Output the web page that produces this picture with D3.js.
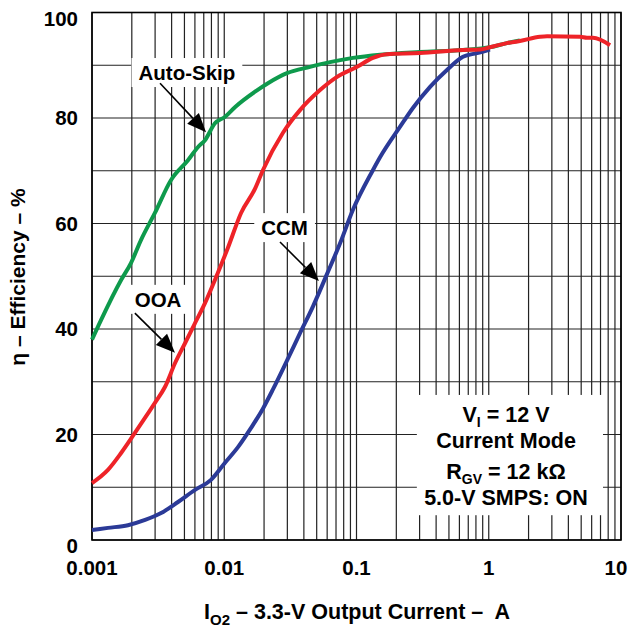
<!DOCTYPE html>
<html>
<head>
<meta charset="utf-8">
<script src="https://cdn.jsdelivr.net/npm/d3@7/dist/d3.min.js"></script>
<style>
    body { margin: 0; background: #fff; }
    svg text { font-family: Arial, "Liberation Sans", Helvetica, sans-serif; font-weight: bold; fill: #000; }
</style>
</head>
<body>
<div id="chart"></div>
<script>
    // output current in A (log axis), efficiency in %
    var autoSkipCurrent = [0.001, 0.00117, 0.00166, 0.00197, 0.00235, 0.00299, 0.00395, 0.00532, 0.00634, 0.00715,
        0.0085, 0.0101, 0.0121, 0.0171, 0.0214, 0.0298, 0.0445, 0.063, 0.094, 0.151, 0.302, 0.638, 1.02, 1.37, 1.72];
    var autoSkipEff = [38.0, 41.7, 49.3, 52.5, 56.9, 62.0, 68.2, 72.0, 74.5, 75.8,
        79.0, 80.2, 82.1, 85.0, 86.6, 88.5, 89.7, 90.6, 91.4, 92.0, 92.5, 92.9, 93.4, 94.2, 94.7];

    var ooaCurrent = [0.001, 0.00132, 0.00166, 0.00211, 0.00265, 0.00299, 0.00356, 0.00424, 0.00505, 0.00601,
        0.00715, 0.0085, 0.0107, 0.0134, 0.0171, 0.0196, 0.0278, 0.0374, 0.053, 0.0713, 0.101, 0.133, 0.170,
        0.302, 0.638, 0.859, 1.02, 1.37, 1.72, 2.44, 2.76, 4.9, 5.53, 6.14, 8.26];
    var ooaEff = [10.8, 13.3, 16.5, 20.3, 24.0, 26.0, 29.0, 33.5, 37.3, 41.1,
        44.9, 49.3, 55.5, 62.0, 66.6, 70.1, 77.2, 81.5, 85.3, 87.8, 89.7, 91.4, 92.1,
        92.3, 92.9, 93.0, 93.4, 94.2, 94.6, 95.4, 95.5, 95.4, 95.2, 95.2, 93.8];

    var ccmCurrent = [0.001, 0.00132, 0.00187, 0.00252, 0.00333, 0.00447, 0.00601, 0.00794, 0.0101, 0.0127,
        0.0159, 0.0196, 0.0234, 0.0298, 0.0374, 0.0469, 0.0598, 0.075, 0.094, 0.133, 0.151, 0.213, 0.267,
        0.360, 0.483, 0.638, 0.815, 1.02];
    var ccmEff = [1.9, 2.3, 2.8, 3.8, 5.1, 7.2, 9.5, 11.4, 14.6, 17.6,
        21.2, 24.9, 28.6, 34.0, 39.2, 44.3, 50.4, 56.2, 62.6, 70.1, 72.6, 78.3, 81.9,
        85.9, 89.1, 91.6, 92.3, 93.0];

    var xTickValues = [0.001, 0.01, 0.1, 1, 10];
    var xTickLabels = ["0.001", "0.01", "0.1", "1", "10"];
    var yTickValues = [0, 20, 40, 60, 80, 100];
    var yTickLabels = ["0", "20", "40", "60", "80", "100"];
    var conditionLines = ["V|I| = 12 V", "Current Mode", "R|GV| = 12 k\u03A9", "5.0-V SMPS: ON"];

    var width = 635, height = 629;
    var margin = {top: 12.5, right: 14, bottom: 89, left: 92};
    var plotW = width - margin.left - margin.right;
    var plotH = height - margin.top - margin.bottom;

    var x = d3.scaleLog().domain([0.001, 10]).range([0, plotW]);
    var y = d3.scaleLinear().domain([0, 100]).range([plotH, 0]);

    var svg = d3.select("#chart").append("svg")
        .attr("xmlns", "http://www.w3.org/2000/svg")
        .attr("width", width)
        .attr("height", height);

    var g = svg.append("g").attr("transform", "translate(" + margin.left + "," + margin.top + ")");

    //grid: every 1..9 per decade and every 10 %
    var xGrid = [];
    for (var e = -3; e < 1; e++) {
        for (var k = 1; k < 10; k++) { xGrid.push(k * Math.pow(10, e)); }
    }
    xGrid.push(10);

    g.append("g").attr("class", "xgrid").selectAll("line")
        .data(xGrid).enter().append("line")
        .attr("x1", function (d) { return x(d); })
        .attr("x2", function (d) { return x(d); })
        .attr("y1", 0).attr("y2", plotH)
        .style("stroke", "#222").style("stroke-width", 1.2);

    g.append("g").attr("class", "ygrid").selectAll("line")
        .data(d3.range(0, 101, 10)).enter().append("line")
        .attr("x1", 0).attr("x2", plotW)
        .attr("y1", function (d) { return y(d); })
        .attr("y2", function (d) { return y(d); })
        .style("stroke", "#222").style("stroke-width", 1.2);

    g.append("rect")
        .attr("width", plotW).attr("height", plotH)
        .style("fill", "none").style("stroke", "#000").style("stroke-width", 1.6);

    //curves
    var line = d3.line()
        .x(function (d) { return x(d[0]); })
        .y(function (d) { return y(d[1]); })
        .curve(d3.curveMonotoneX);

    function series(cur, eff) {
        return cur.map(function (c, i) { return [c, eff[i]]; });
    }

    var curves = [
        {name: "ccm", data: series(ccmCurrent, ccmEff), color: "#2b3a97"},
        {name: "autoSkip", data: series(autoSkipCurrent, autoSkipEff), color: "#0e9a4c"},
        {name: "ooa", data: series(ooaCurrent, ooaEff), color: "#ee2328"}
    ];

    g.selectAll("path.curve")
        .data(curves).enter().append("path")
        .attr("class", "curve")
        .attr("d", function (d) { return line(d.data); })
        .style("fill", "none")
        .style("stroke", function (d) { return d.color; })
        .style("stroke-width", 4)
        .style("stroke-linejoin", "round");

    //labels with arrows
    var callouts = [
        {text: "Auto-Skip", tx: 0.00522, ty: 87.2, from: [0.00327, 86.6], to: [0.00728, 77.3]},
        {text: "OOA", tx: 0.00316, ty: 44.2, from: [0.00211, 43.0], to: [0.00424, 35.5]},
        {text: "CCM", tx: 0.0286, ty: 57.8, from: [0.0264, 56.5], to: [0.052, 49.1]}
    ];

    callouts.forEach(function (c) {
        var grp = g.append("g").attr("class", "callout");
        var bg = grp.append("rect").style("fill", "#fff");
        var t = grp.append("text")
            .attr("x", x(c.tx)).attr("y", y(c.ty))
            .attr("text-anchor", "middle")
            .style("font-size", "20.5px")
            .text(c.text);
        var bb = t.node().getBBox();
        bg.attr("x", bb.x - 7).attr("y", bb.y - 3)
            .attr("width", bb.width + 14).attr("height", bb.height + 6);

        var x1 = x(c.from[0]), y1 = y(c.from[1]);
        var x2 = x(c.to[0]), y2 = y(c.to[1]);
        var ang = Math.atan2(y2 - y1, x2 - x1);
        var headLen = 19, headW = 8;
        var bx = x2 - headLen * Math.cos(ang), by = y2 - headLen * Math.sin(ang);
        grp.append("line")
            .attr("x1", x1).attr("y1", y1).attr("x2", bx).attr("y2", by)
            .style("stroke", "#000").style("stroke-width", 1.6);
        var pts = [
            [x2, y2],
            [bx + headW * Math.sin(ang), by - headW * Math.cos(ang)],
            [bx - headW * Math.sin(ang), by + headW * Math.cos(ang)]
        ];
        grp.append("polygon")
            .attr("points", pts.map(function (p) { return p.join(","); }).join(" "))
            .style("fill", "#000");
    });

    //conditions box
    var boxX0 = x(0.286), boxX1 = x(7.31), boxY0 = y(27.5), boxY1 = y(4.7);
    g.append("rect")
        .attr("x", boxX0).attr("y", boxY0)
        .attr("width", boxX1 - boxX0).attr("height", boxY1 - boxY0)
        .style("fill", "#fff");

    var lineBase = [422, 448, 479, 505];
    var boxCx = 506 - margin.left;
    conditionLines.forEach(function (s, i) {
        var t = g.append("text")
            .attr("x", boxCx).attr("y", lineBase[i] - margin.top)
            .attr("text-anchor", "middle")
            .style("font-size", "21.5px");
        var parts = s.split("|");
        t.append("tspan").text(parts[0]);
        if (parts.length > 1) {
            t.append("tspan").attr("dy", 5).style("font-size", "14px").text(parts[1]);
            t.append("tspan").attr("dy", -5).text(parts[2]);
        }
    });

    //tick labels
    g.selectAll("text.xtick")
        .data(xTickValues).enter().append("text")
        .attr("class", "xtick")
        .attr("x", function (d, i) { return i === xTickValues.length - 1 ? x(d) - 5 : x(d); })
        .attr("y", plotH + 35)
        .attr("text-anchor", "middle")
        .style("font-size", "20.5px")
        .text(function (d, i) { return xTickLabels[i]; });

    g.selectAll("text.ytick")
        .data(yTickValues).enter().append("text")
        .attr("class", "ytick")
        .attr("x", -14)
        .attr("y", function (d) {
            if (d === 100) return y(d) + 6;
            if (d === 0) return y(d) + 6;
            return y(d);
        })
        .attr("dy", "0.35em")
        .attr("text-anchor", "end")
        .style("font-size", "20.5px")
        .text(function (d, i) { return yTickLabels[i]; });

    //axis titles
    var xt = svg.append("text")
        .attr("x", 357).attr("y", 619)
        .attr("text-anchor", "middle")
        .style("font-size", "21.5px");
    xt.append("tspan").text("I");
    xt.append("tspan").attr("dy", 6).style("font-size", "15px").text("O2");
    xt.append("tspan").attr("dy", -6).text(" \u2013 3.3-V Output Current \u2013\u00A0 A");

    svg.append("text")
        .attr("transform", "translate(25,277) rotate(-90)")
        .attr("text-anchor", "middle")
        .style("font-size", "21px")
        .text("\u03B7 \u2013 Efficiency \u2013 %");
</script>
</body>
</html>
